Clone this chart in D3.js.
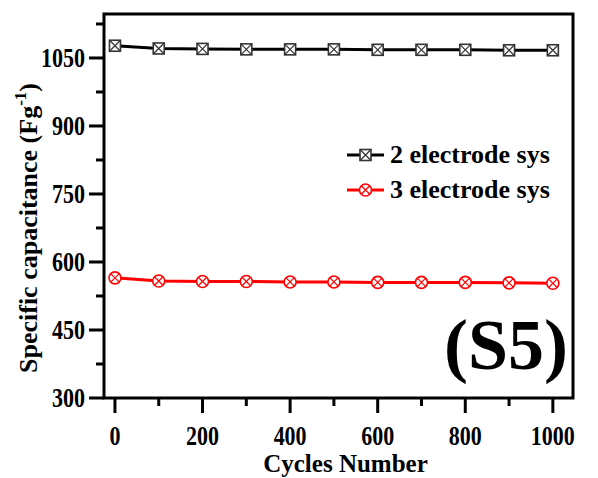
<!DOCTYPE html>
<html>
<head>
<meta charset="utf-8">
<script src="https://cdn.jsdelivr.net/npm/d3@7"></script>
<style>
  body { margin: 0; background: #fff; }
  text { font-family: "Liberation Serif", "Times New Roman", serif; font-weight: bold; fill: #000; }
</style>
</head>
<body>
<div id="chart"></div>
<script>
var cycles = [0, 100, 200, 300, 400, 500, 600, 700, 800, 900, 1000];
var twoElectrode = [1077, 1071, 1070, 1069, 1069, 1069, 1068, 1068, 1068, 1067, 1067];
var threeElectrode = [565, 558, 557, 557, 556, 556, 555, 555, 555, 554, 553];
var xTicks = [0, 200, 400, 600, 800, 1000];
var yTicks = [300, 450, 600, 750, 900, 1050];

var width = 598, height = 478;
var pLeft = 104, pRight = 573, pTop = 14, pBottom = 398;

var svg = d3.select("#chart").append("svg")
    .attr("width", width)
    .attr("height", height);

var x = d3.scaleLinear().domain([-25, 1046]).range([pLeft, pRight]);
var y = d3.scaleLinear().domain([300, 1147]).range([pBottom, pTop]);

// minor ticks
svg.selectAll(".xminor").data(d3.range(100, 1000, 200)).enter()
    .append("line")
    .attr("x1", function (d) { return x(d); }).attr("x2", function (d) { return x(d); })
    .attr("y1", pBottom).attr("y2", pBottom + 8)
    .attr("stroke", "#000").attr("stroke-width", 3);
svg.selectAll(".yminor").data([375, 525, 675, 825, 975, 1125]).enter()
    .append("line")
    .attr("y1", function (d) { return y(d); }).attr("y2", function (d) { return y(d); })
    .attr("x1", pLeft).attr("x2", pLeft - 8)
    .attr("stroke", "#000").attr("stroke-width", 3);

// major ticks
svg.selectAll(".xmajor").data(xTicks).enter()
    .append("line")
    .attr("x1", function (d) { return x(d); }).attr("x2", function (d) { return x(d); })
    .attr("y1", pBottom).attr("y2", pBottom + 15)
    .attr("stroke", "#000").attr("stroke-width", 3);
svg.selectAll(".ymajor").data(yTicks).enter()
    .append("line")
    .attr("y1", function (d) { return y(d); }).attr("y2", function (d) { return y(d); })
    .attr("x1", pLeft).attr("x2", pLeft - 15)
    .attr("stroke", "#000").attr("stroke-width", 3);

// tick labels
svg.selectAll(".xlab").data(xTicks).enter()
    .append("text")
    .attr("transform", function (d) { return "translate(" + x(d) + ",445) scale(1,1.2)"; })
    .attr("text-anchor", "middle")
    .style("font-size", "22px")
    .text(function (d) { return d; });
svg.selectAll(".ylab").data(yTicks).enter()
    .append("text")
    .attr("transform", function (d) { return "translate(" + (pLeft - 19) + "," + (y(d) + 9) + ") scale(1,1.25)"; })
    .attr("text-anchor", "end")
    .style("font-size", "22px")
    .text(function (d) { return d; });

// frame
svg.append("rect")
    .attr("x", pLeft).attr("y", pTop)
    .attr("width", pRight - pLeft).attr("height", pBottom - pTop)
    .attr("fill", "none").attr("stroke", "#000").attr("stroke-width", 3);

// axis titles
svg.append("text")
    .attr("transform", "translate(" + ((pLeft + pRight) / 2 + 7) + ",472)")
    .attr("text-anchor", "middle")
    .style("font-size", "25px")
    .text("Cycles Number");

var yt = svg.append("text")
    .attr("transform", "translate(37,228) rotate(-90)")
    .attr("text-anchor", "middle")
    .style("font-size", "26px");
yt.append("tspan").text("Specific capacitance (Fg");
yt.append("tspan").attr("dy", -11).style("font-size", "17px").text("-1");
yt.append("tspan").attr("dy", 11).text(")");

var line = d3.line()
    .x(function (d, i) { return x(cycles[i]); })
    .y(function (d) { return y(d); });

function boxMarker(g, cx, cy) {
    var s = 5.5;
    g.append("rect").attr("x", cx - s).attr("y", cy - s).attr("width", 2 * s).attr("height", 2 * s)
        .attr("fill", "#fff").attr("stroke", "#333").attr("stroke-width", 1.6);
    g.append("path").attr("d", "M" + (cx - s) + "," + (cy - s) + "L" + (cx + s) + "," + (cy + s) +
        "M" + (cx + s) + "," + (cy - s) + "L" + (cx - s) + "," + (cy + s))
        .attr("stroke", "#333").attr("stroke-width", 1.2);
}
function circMarker(g, cx, cy) {
    var r = 6;
    var a = r * 0.7071;
    g.append("circle").attr("cx", cx).attr("cy", cy).attr("r", r)
        .attr("fill", "#fff").attr("stroke", "#f00").attr("stroke-width", 1.6);
    g.append("path").attr("d", "M" + (cx - a) + "," + (cy - a) + "L" + (cx + a) + "," + (cy + a) +
        "M" + (cx + a) + "," + (cy - a) + "L" + (cx - a) + "," + (cy + a))
        .attr("stroke", "#f00").attr("stroke-width", 1.2);
}

svg.append("path").datum(twoElectrode).attr("d", line)
    .attr("fill", "none").attr("stroke", "#000").attr("stroke-width", 3);
svg.append("path").datum(threeElectrode).attr("d", line)
    .attr("fill", "none").attr("stroke", "#f00").attr("stroke-width", 3);

var mk = svg.append("g");
twoElectrode.forEach(function (d, i) { boxMarker(mk, x(cycles[i]), y(d)); });
threeElectrode.forEach(function (d, i) { circMarker(mk, x(cycles[i]), y(d)); });

// legend
var legend = [
    { label: "2 electrode sys", color: "#000", y: 155, m: boxMarker },
    { label: "3 electrode sys", color: "#f00", y: 190, m: circMarker }
];
legend.forEach(function (l) {
    svg.append("line").attr("x1", 347).attr("x2", 384).attr("y1", l.y).attr("y2", l.y)
        .attr("stroke", l.color).attr("stroke-width", 3);
    l.m(svg, 365.5, l.y);
    svg.append("text")
        .attr("transform", "translate(390," + (l.y + 8) + ")")
        .style("font-size", "26px")
        .text(l.label);
});

svg.append("text")
    .attr("x", 444).attr("y", 369)
    .style("font-size", "72px")
    .text("(S5)");
</script>
</body>
</html>
